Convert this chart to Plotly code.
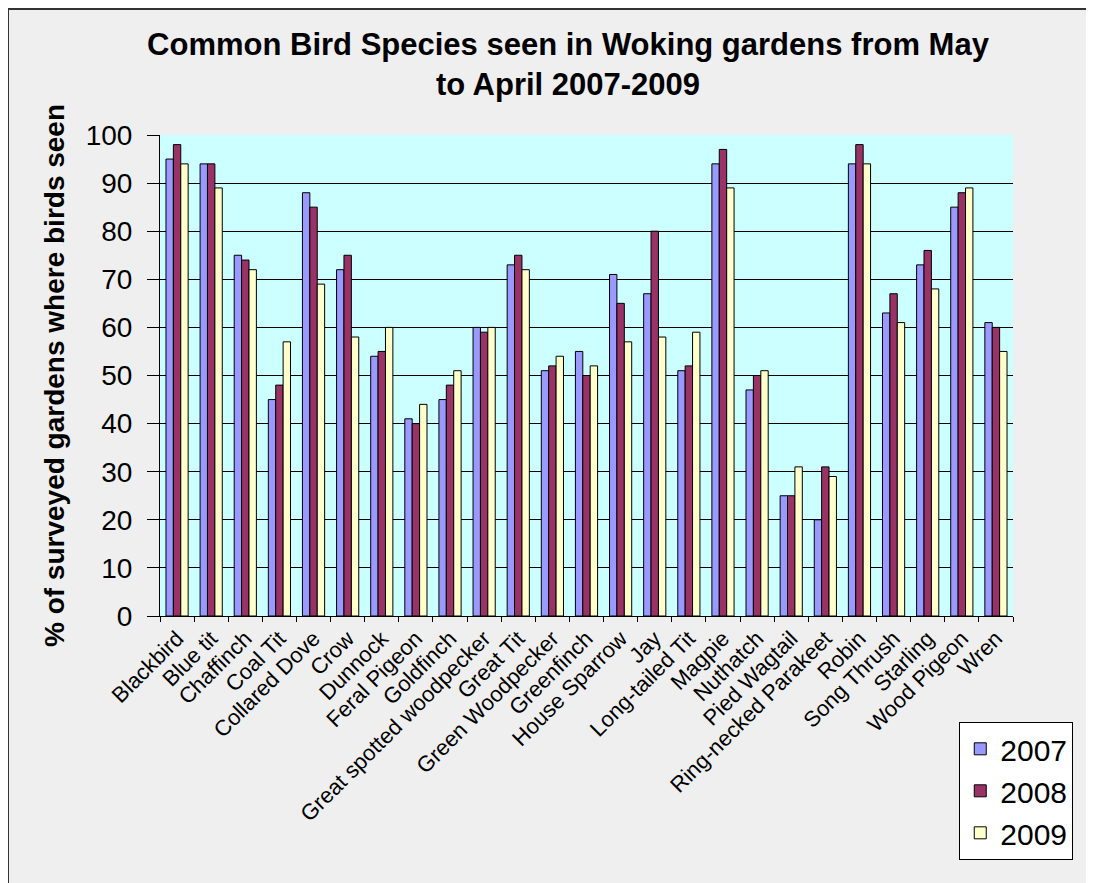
import plotly.graph_objects as go

species = ["Blackbird", "Blue tit", "Chaffinch", "Coal Tit", "Collared Dove", "Crow", "Dunnock",
           "Feral Pigeon", "Goldfinch", "Great spotted woodpecker", "Great Tit", "Green Woodpecker",
           "Greenfinch", "House Sparrow", "Jay", "Long-tailed Tit", "Magpie", "Nuthatch",
           "Pied Wagtail", "Ring-necked Parakeet", "Robin", "Song Thrush", "Starling",
           "Wood Pigeon", "Wren"]
y2007 = [95, 94, 75, 45, 88, 72, 54, 41, 45, 60, 73, 51, 55, 71, 67, 51, 94, 47, 25, 20, 94, 63, 73, 85, 61]
y2008 = [98, 94, 74, 48, 85, 75, 55, 40, 48, 59, 75, 52, 50, 65, 80, 52, 97, 50, 25, 31, 98, 67, 76, 88, 60]
y2009 = [94, 89, 72, 57, 69, 58, 60, 44, 51, 60, 72, 54, 52, 57, 58, 59, 89, 51, 31, 29, 94, 61, 68, 89, 55]
years = ["2007", "2008", "2009"]
colors = ["#9999FF", "#993366", "#FFFFCC"]
yticks = [0, 10, 20, 30, 40, 50, 60, 70, 80, 90, 100]

W, H = 1094, 883
L, T = 152, 127
PW, PH = 853, 481
R, B = W - L - PW, H - T - PH

fig = go.Figure()
for name, vals, col in zip(years, [y2007, y2008, y2009], colors):
    fig.add_trace(go.Bar(x=species, y=vals, name=name,
                         marker=dict(color=col, line=dict(color="black", width=1))))

font_main = "Liberation Sans, Arial, sans-serif"
fig.update_layout(
    width=W, height=H,
    paper_bgcolor="#efefef",
    plot_bgcolor="#CCFFFF",
    barmode="group",
    bargap=0.35,
    bargroupgap=0,
    margin=dict(l=L, r=R, t=T, b=B),
    title=dict(text="<b>Common Bird Species seen in Woking gardens from May<br>to April 2007-2009</b>",
               x=560 / W, xanchor="center", yref="container", y=1 - 47 / H, yanchor="top",
               font=dict(family=font_main, size=31, color="black")),
    font=dict(family=font_main, color="black"),
    xaxis=dict(tickangle=-45, tickfont=dict(size=22, family=font_main),
               ticks="outside", tickson="boundaries", ticklen=5, tickcolor="black",
               showline=True, linecolor="black", linewidth=1, mirror=False,
               showgrid=False, automargin=False),
    yaxis=dict(range=[0, 100], tickvals=yticks, tickfont=dict(size=28, family=font_main),
               ticklabelstandoff=9,
               ticks="outside", ticklen=12, tickcolor="black",
               showline=True, linecolor="black", linewidth=1,
               showgrid=True, gridcolor="black", gridwidth=1,
               zeroline=False,
               title=dict(text="<b>% of surveyed gardens where birds seen</b>",
                          font=dict(size=28, family=font_main), standoff=12),
               automargin=False),
    legend=dict(x=0.937, y=-0.22, xanchor="left", yanchor="top",
                bgcolor="white", bordercolor="black", borderwidth=1,
                font=dict(size=30, family=font_main), tracegroupgap=4),
    shapes=[
        dict(type="line", xref="paper", yref="paper",
             x0=(0 - L) / PW, x1=(W - L) / PW, y0=(T + PH - 1) / PH, y1=(T + PH - 1) / PH,
             line=dict(color="#333333", width=2)),
        dict(type="line", xref="paper", yref="paper",
             x0=(0 - L) / PW, x1=(0 - L) / PW, y0=(T + PH - H) / PH, y1=(T + PH - 1) / PH,
             line=dict(color="#333333", width=2)),
    ]
)

fig.write_html("out.html")
